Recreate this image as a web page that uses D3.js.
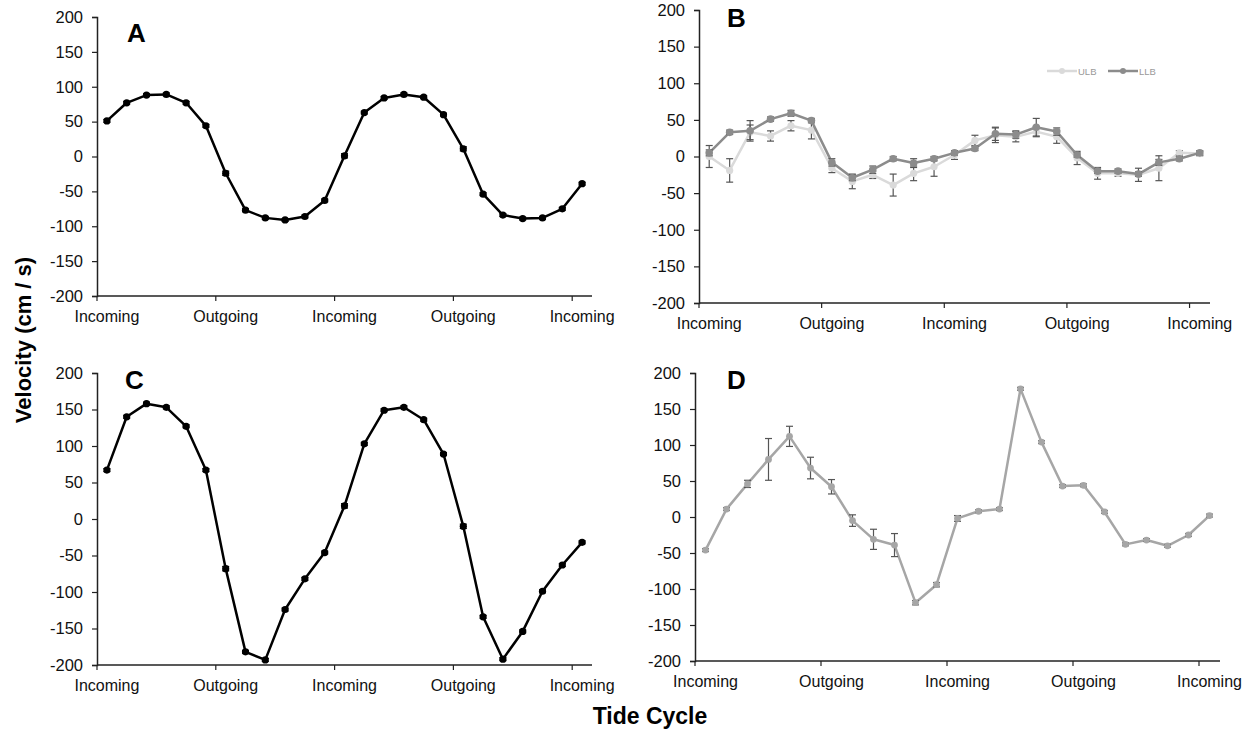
<!DOCTYPE html>
<html>
<head>
<meta charset="utf-8">
<script src="https://cdn.jsdelivr.net/npm/d3@7"></script>
<style>
  body { margin: 0; background: #fff; }
  svg text { font-family: "Liberation Sans", Arial, sans-serif; }
</style>
</head>
<body>
<svg id="chart" width="1252" height="732"></svg>
<script>
  // tide cycle categories (25 samples, label every 6th)
  var categories = d3.range(25),
    tideLabels = ['Incoming', 'Outgoing', 'Incoming', 'Outgoing', 'Incoming'],
    yTicks = [-200, -150, -100, -50, 0, 50, 100, 150, 200];

  // Panel A
  var velA = [51, 77, 88, 89, 77, 44, -24, -77, -88, -91, -86, -63, 1, 63, 84, 89, 85, 60, 11, -54, -84, -89, -88, -75, -39],
    errA = [2, 2, 2, 2, 2, 2, 3, 2, 2, 2, 2, 2, 3, 2, 2, 2, 2, 2, 3, 2, 2, 2, 2, 2, 2];

  // Panel B (two series)
  var velULB = [0, -19, 33, 28, 42, 36, -16, -34, -25, -39, -23, -14, 2, 22, 29, 27, 34, 27, -2, -23, -23, -25, -16, 5, 4],
    errULB = [15, 16, 10, 7, 7, 12, 6, 10, 5, 15, 10, 13, 6, 7, 10, 7, 7, 9, 9, 8, 4, 9, 17, 3, 3],
    velLLB = [5, 33, 35, 51, 59, 49, -8, -29, -18, -3, -9, -3, 5, 11, 31, 30, 40, 34, 2, -20, -20, -24, -8, -3, 5],
    errLLB = [4, 3, 14, 3, 4, 3, 5, 4, 5, 3, 6, 3, 3, 3, 9, 5, 12, 5, 3, 3, 3, 3, 4, 3, 3];

  // Panel C
  var velC = [67, 140, 158, 153, 127, 67, -68, -182, -193, -124, -82, -46, 18, 103, 149, 153, 136, 89, -10, -134, -192, -154, -99, -63, -32],
    errC = [2, 2, 2, 2, 2, 2, 3, 2, 2, 2, 2, 2, 3, 2, 2, 2, 2, 2, 3, 2, 2, 2, 2, 2, 2];

  // Panel D
  var velD = [-46, 11, 46, 80, 112, 68, 42, -5, -31, -39, -119, -94, -2, 8, 11, 178, 104, 43, 44, 7, -38, -32, -40, -25, 2],
    errD = [2, 2, 5, 29, 14, 15, 10, 8, 14, 16, 3, 3, 4, 2, 2, 2, 2, 2, 2, 2, 2, 2, 2, 2, 2];

  var svg = d3.select('#chart');

  var panels = [
    { letter: 'A', x0: 97, x1: 592, yTop: 17, yBot: 296, lx: 127, ly: 42,
      series: [{ values: velA, err: errA, color: '#000', errColor: '#000', r: 3.6, width: 2.5 }] },
    { letter: 'B', x0: 699, x1: 1210, yTop: 10, yBot: 303, lx: 727, ly: 27,
      series: [
        { values: velULB, err: errULB, color: '#dadada', errColor: '#555', r: 3.6, width: 2.5 },
        { values: velLLB, err: errLLB, color: '#8c8c8c', errColor: '#555', r: 3.8, width: 2.5 }
      ] },
    { letter: 'C', x0: 97, x1: 592, yTop: 373, yBot: 665, lx: 125, ly: 389,
      series: [{ values: velC, err: errC, color: '#000', errColor: '#000', r: 3.6, width: 2.5 }] },
    { letter: 'D', x0: 695, x1: 1220, yTop: 373, yBot: 661, lx: 727, ly: 389,
      series: [{ values: velD, err: errD, color: '#a6a6a6', errColor: '#555', r: 3.4, width: 2.5 }] }
  ];

  panels.forEach(function(p) {
    var x = d3.scaleBand().domain(categories).range([p.x0, p.x1]).padding(0),
      y = d3.scaleLinear().domain([-200, 200]).range([p.yBot, p.yTop]),
      g = svg.append('g').attr('class', 'panel-' + p.letter);

    // y axis (plain hyphen minus like the original)
    var yAxis = d3.axisLeft(y).tickValues(yTicks).tickSize(5).tickPadding(9)
      .tickFormat(function(d) { return String(d); });
    var ya = g.append('g').attr('transform', 'translate(' + p.x0 + ',0)').call(yAxis);
    ya.select('.domain').attr('stroke', '#222').attr('stroke-width', 1.5);
    ya.selectAll('.tick line').attr('stroke', '#222').attr('stroke-width', 1.2);
    ya.selectAll('.tick text').attr('font-size', 16.5).attr('fill', '#111');

    // x axis: ticks at category boundaries every 6, labels under categories 0,6,12...
    var xa = g.append('g').attr('transform', 'translate(0,' + p.yBot + ')');
    xa.append('line')
      .attr('x1', p.x0).attr('x2', p.x1)
      .attr('stroke', '#222').attr('stroke-width', 1.5);
    var labelled = categories.filter(function(c) { return c % 6 === 0; });
    xa.selectAll('line.tick')
      .data(labelled)
      .enter().append('line')
      .attr('class', 'tick')
      .attr('x1', function(d) { return x(d); })
      .attr('x2', function(d) { return x(d); })
      .attr('y1', 0).attr('y2', 5)
      .attr('stroke', '#222').attr('stroke-width', 1.2);
    xa.selectAll('text')
      .data(labelled)
      .enter().append('text')
      .attr('x', function(d) { return x(d) + x.bandwidth() / 2; })
      .attr('y', 26)
      .attr('text-anchor', 'middle')
      .attr('font-size', 16)
      .attr('fill', '#111')
      .text(function(d, i) { return tideLabels[i]; });

    // series
    p.series.forEach(function(s) {
      var cx = function(d, i) { return x(i) + x.bandwidth() / 2; };
      var line = d3.line().x(cx).y(function(d) { return y(d); });

      g.append('path')
        .datum(s.values)
        .attr('fill', 'none')
        .attr('stroke', s.color)
        .attr('stroke-width', s.width)
        .attr('stroke-linejoin', 'round')
        .attr('d', line);

      // error bars
      var eb = g.append('g').selectAll('g')
        .data(s.values)
        .enter().append('g');
      eb.append('line')
        .attr('x1', cx).attr('x2', cx)
        .attr('y1', function(d, i) { return y(d - s.err[i]); })
        .attr('y2', function(d, i) { return y(d + s.err[i]); })
        .attr('stroke', s.errColor).attr('stroke-width', 1.2);
      [-1, 1].forEach(function(sign) {
        eb.append('line')
          .attr('x1', function(d, i) { return cx(d, i) - 3.5; })
          .attr('x2', function(d, i) { return cx(d, i) + 3.5; })
          .attr('y1', function(d, i) { return y(d + sign * s.err[i]); })
          .attr('y2', function(d, i) { return y(d + sign * s.err[i]); })
          .attr('stroke', s.errColor).attr('stroke-width', 1.2);
      });

      g.append('g').selectAll('circle')
        .data(s.values)
        .enter().append('circle')
        .attr('cx', cx)
        .attr('cy', function(d) { return y(d); })
        .attr('r', s.r)
        .attr('fill', s.color);
    });

    // panel letter
    g.append('text')
      .attr('x', p.lx).attr('y', p.ly)
      .attr('font-size', 26).attr('font-weight', 'bold')
      .attr('fill', '#000')
      .text(p.letter);
  });

  // legend for B
  var legend = svg.append('g').attr('transform', 'translate(1047,71)'),
    legendItems = [{ name: 'ULB', color: '#dadada', dx: 0 }, { name: 'LLB', color: '#8c8c8c', dx: 61 }];
  legendItems.forEach(function(l) {
    var lg = legend.append('g').attr('transform', 'translate(' + l.dx + ',0)');
    lg.append('line').attr('x1', 0).attr('x2', 30).attr('stroke', l.color).attr('stroke-width', 2.5);
    lg.append('circle').attr('cx', 15).attr('r', 3).attr('fill', l.color);
    lg.append('text').attr('x', 31).attr('y', 3.5).attr('font-size', 9.5).attr('fill', '#999').text(l.name);
  });

  // axis titles
  svg.append('text')
    .attr('transform', 'translate(31,340) rotate(-90)')
    .attr('text-anchor', 'middle')
    .attr('font-size', 22).attr('font-weight', 'bold')
    .text('Velocity (cm / s)');
  svg.append('text')
    .attr('x', 650).attr('y', 724)
    .attr('text-anchor', 'middle')
    .attr('font-size', 23).attr('font-weight', 'bold')
    .text('Tide Cycle');
</script>
</body>
</html>
